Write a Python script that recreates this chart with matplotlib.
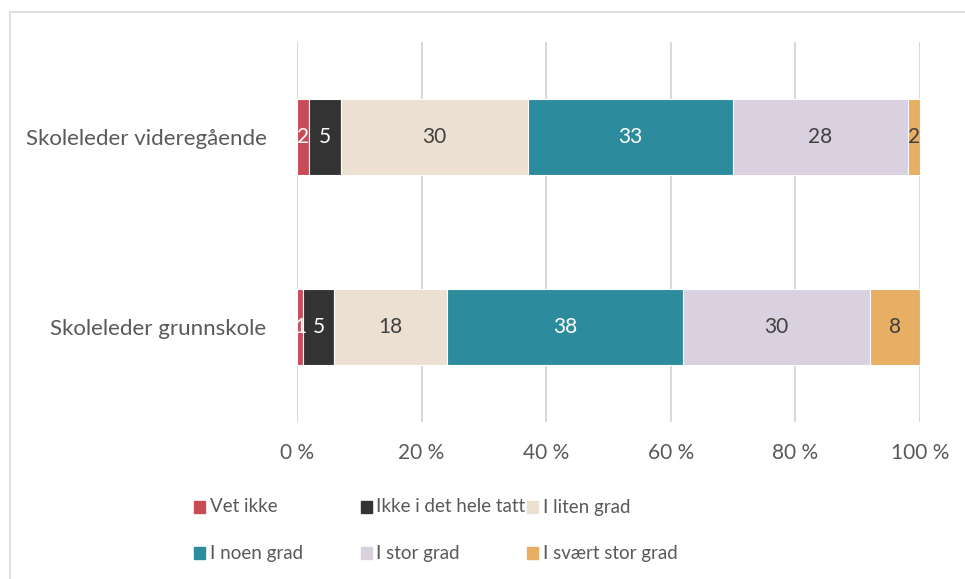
import matplotlib
matplotlib.use('Agg')
import matplotlib.pyplot as plt
from matplotlib.patches import Rectangle
import numpy as np

# ==============================================================================
# data
# ==============================================================================
groups = ['Skoleleder grunnskole', 'Skoleleder videregående']
series = ['Vet ikke', 'Ikke i det hele tatt', 'I liten grad',
          'I noen grad', 'I stor grad', 'I svært stor grad']
grunnskole = [1, 5, 18, 38, 30, 8]
videregaende = [2, 5, 30, 33, 28, 2]
xticks = [0, 20, 40, 60, 80, 100]
xtick_labels = ['0 %', '20 %', '40 %', '60 %', '80 %', '100 %']

colors = ['#C84B57', '#333333', '#EBE0D1', '#2C8C9D', '#D9D1DF', '#E8AE63']
label_colors = ['white', 'white', '#404040', 'white', '#404040', '#404040']
text_grey = '#595959'

plt.rcParams['font.family'] = ['Lato', 'DejaVu Sans']

W, H = 965, 579
fig = plt.figure(figsize=(W / 100, H / 100), dpi=100)
ax = fig.add_axes([297 / W, 1 - 422 / H, (920 - 297) / W, (422 - 42) / H])

# ==============================================================================
# stacked bars
# ==============================================================================
vals = np.array([grunnskole, videregaende], dtype=float)
ypos = np.arange(len(groups))
left = np.zeros(len(groups))
for i, name in enumerate(series):
    ax.barh(ypos, vals[:, i], left=left, height=0.4, color=colors[i],
            edgecolor='white', linewidth=0.8, zorder=3, label=name)
    for j in range(len(groups)):
        ax.text(left[j] + vals[j, i] / 2, ypos[j], '%d' % vals[j, i],
                ha='center', va='center', fontsize=15, color=label_colors[i], zorder=4)
    left = left + vals[:, i]

ax.set_xlim(0, 100)
ax.set_ylim(-0.5, 1.5)
ax.set_xticks(xticks)
ax.set_xticklabels(xtick_labels)
ax.set_yticks(ypos)
ax.set_yticklabels(groups)
ax.tick_params(axis='x', length=0, pad=15, labelsize=15, labelcolor=text_grey)
ax.tick_params(axis='y', length=0, pad=22, labelsize=16, labelcolor=text_grey)
ax.grid(axis='x', color='#D9D9D9', linewidth=1.5, zorder=0)
for s in ax.spines.values():
    s.set_visible(False)

# ==============================================================================
# legend (fixed-width columns like the original)
# ==============================================================================
for i, name in enumerate(series):
    row, col = i // 3, i % 3
    x = 194 + col * 166.5
    y = 507 + row * 46
    fig.patches.append(Rectangle((x / W, 1 - (y + 6) / H), 11 / W, 12 / H,
                                 transform=fig.transFigure, color=colors[i]))
    fig.text((x + 16) / W, 1 - y / H, name, ha='left', va='center',
             fontsize=13.5, color=text_grey)

# chart frame (only top and left visible)
fig.patches.append(Rectangle((10 / W, -0.1), 1.1, 1 - 12 / H + 0.1,
                             transform=fig.transFigure, fill=False,
                             edgecolor='#D9D9D9', linewidth=1.2))

fig.savefig('out.png', dpi=100, facecolor='white')
